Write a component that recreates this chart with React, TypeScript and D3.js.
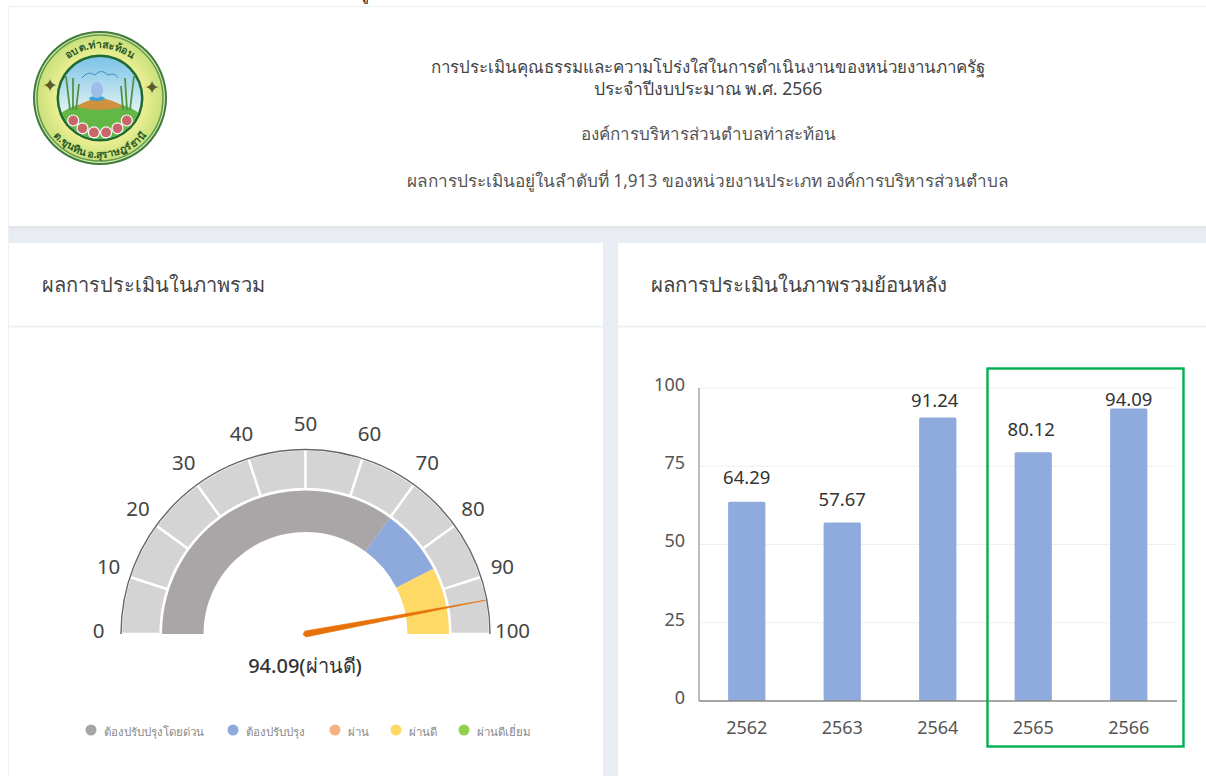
import React from "react";
import * as d3 from "d3";

const FONT = "'Noto Sans', 'Open Sans', Lato, sans-serif";

const clippedTopText = "รู";
const headerLines = [
  "การประเมินคุณธรรมและความโปร่งใสในการดำเนินงานของหน่วยงานภาครัฐ",
  "ประจำปีงบประมาณ พ.ศ. 2566",
  "องค์การบริหารส่วนตำบลท่าสะท้อน",
  "ผลการประเมินอยู่ในลำดับที่ 1,913 ของหน่วยงานประเภท องค์การบริหารส่วนตำบล",
];
const leftTitle = "ผลการประเมินในภาพรวม";
const rightTitle = "ผลการประเมินในภาพรวมย้อนหลัง";

const gaugeValue = 94.09;
const gaugeLabel = "94.09(ผ่านดี)";
const gaugeTicks = [0, 10, 20, 30, 40, 50, 60, 70, 80, 90, 100];
const gaugeBandStarts = [0, 70, 85];
const gaugeBandEnds = [70, 85, 100];
const gaugeBandColors = ["#aaa6a7", "#8ea9db", "#ffd966"];

const legendLabels = ["ต้องปรับปรุงโดยด่วน", "ต้องปรับปรุง", "ผ่าน", "ผ่านดี", "ผ่านดีเยี่ยม"];
const legendColors = ["#a5a5a5", "#8ea9db", "#f4b183", "#ffd966", "#92d050"];

const years = ["2562", "2563", "2564", "2565", "2566"];
const scores = [64.29, 57.67, 91.24, 80.12, 94.09];
const yTicks = [0, 25, 50, 75, 100];
// how far each value label sits above its bar in the reference
const labelLift = [22, 21, 15, 21, 6.5];
const labelShift = [0, 0, -3, -2, 0];

const cx = 305.5, cy = 634, rOuter = 184.5, rMid = 143.5, rInner = 102;
const angle = d3.scaleLinear().domain([0, 100]).range([-Math.PI / 2, Math.PI / 2]);
const polar = (v: number, r: number): [number, number] => {
  const a = angle(v);
  return [cx + r * Math.sin(a), cy - r * Math.cos(a)];
};
const arc = d3.arc<any>();

const x = d3.scaleBand<string>().domain(years).range([699, 1176.5]).paddingInner(0.61).paddingOuter(0.305);
const y = d3.scaleLinear().domain([0, 100]).range([701, 388]);
const barInset = 2;

function Logo() {
  const lx = 100, ly = 98;
  return (
    <g>
      <defs>
        <path id="logoTop" d={`M${lx - 50},${ly} A50,50 0 0 1 ${lx + 50},${ly}`} />
        <path id="logoBottom" d={`M${lx - 60},${ly} A60,60 0 0 0 ${lx + 60},${ly}`} />
        <clipPath id="logoIn"><circle cx={lx} cy={ly} r={41} /></clipPath>
        <radialGradient id="logoRing"><stop offset="60%" stopColor="#f4f39a" /><stop offset="100%" stopColor="#c9e07a" /></radialGradient>
        <linearGradient id="logoSky" x1="0" x2="0" y1="0" y2="1"><stop offset="0%" stopColor="#7cc3e8" /><stop offset="70%" stopColor="#e6f4f4" /></linearGradient>
      </defs>
      <circle cx={lx} cy={ly} r={67} fill="#3f7d3b" />
      <circle cx={lx} cy={ly} r={65} fill="#d8e8a8" />
      <circle cx={lx} cy={ly} r={63} fill="url(#logoRing)" stroke="#5f9a4d" strokeWidth={1.5} />
      <circle cx={lx} cy={ly} r={43.5} fill="#1f6a30" />
      <circle cx={lx} cy={ly} r={41} fill="url(#logoSky)" />
      <g clipPath="url(#logoIn)">
        <ellipse cx={lx} cy={ly + 28} rx={46} ry={24} fill="#63b845" />
        <path d={`M${lx - 24},${ly + 9} Q${lx},${ly - 8} ${lx + 24},${ly + 9} Q${lx},${ly + 15} ${lx - 24},${ly + 9} Z`} fill="#d0913e" />
        <ellipse cx={lx - 3} cy={ly + 0.5} rx={8} ry={2.5} fill="#3fa0d6" />
        <ellipse cx={lx - 3} cy={ly - 8} rx={6} ry={8} fill="#9fbde8" />
        <path d={`M${lx - 18},${ly - 20} q6,-8 13,-3 q6,-7 13,0 q7,-3 10,3`} stroke="#3a8fc4" strokeWidth={1} fill="none" />
        <path d={`M${lx - 30},${ly + 12} L${lx - 34},${ly - 22} M${lx - 27},${ly + 12} L${lx - 27},${ly - 20} M${lx - 24},${ly + 12} L${lx - 21},${ly - 14} M${lx + 30},${ly + 12} L${lx + 34},${ly - 22} M${lx + 27},${ly + 12} L${lx + 25},${ly - 20} M${lx + 23},${ly + 12} L${lx + 21},${ly - 12}`} stroke="#4f9440" strokeWidth={1.8} fill="none" />
      </g>
      {d3.range(6).map((i) => {
        const a = ((-50 + i * 20) * Math.PI) / 180;
        const r = 35;
        return <circle key={i} cx={lx + r * Math.sin(a)} cy={ly + r * Math.cos(a)} r={5.5} fill="#c9666a" stroke="#fff" strokeWidth={1.2} />;
      })}
      <text fontFamily={FONT} fontSize={10.5} fontWeight={700} fill="#2b5a2a">
        <textPath href="#logoTop" startOffset="50%" textAnchor="middle">อบต.ท่าสะท้อน</textPath>
      </text>
      <text fontFamily={FONT} fontSize={10.5} fontWeight={700} fill="#2b5a2a">
        <textPath href="#logoBottom" startOffset="50%" textAnchor="middle">ต.ขุนทิน อ.สุราษฎร์ธานี</textPath>
      </text>
      <text x={lx - 50} y={ly - 6} fontSize={19} fill="#5a5a2a" textAnchor="middle">✦</text>
      <text x={lx + 52} y={ly - 4} fontSize={19} fill="#5a5a2a" textAnchor="middle">✦</text>
    </g>
  );
}

function Gauge() {
  const cells = d3.pairs(gaugeTicks);
  const tip = polar(gaugeValue, 184);
  const side1 = polar(gaugeValue + 50, 3);
  const side2 = polar(gaugeValue - 50, 3);
  const back = polar(gaugeValue + 100, 2.5);
  return (
    <g>
      <g transform={`translate(${cx},${cy})`}>
        {cells.map(([a, b]) => (
          <path key={a} fill="#d4d4d4" stroke="#fff" strokeWidth={2.4}
            d={arc({ innerRadius: rMid + 1.5, outerRadius: rOuter, startAngle: angle(a), endAngle: angle(b) }) || ""} />
        ))}
        {gaugeBandStarts.map((s, i) => (
          <path key={s} fill={gaugeBandColors[i]}
            d={arc({ innerRadius: rInner, outerRadius: rMid, startAngle: angle(s), endAngle: angle(gaugeBandEnds[i]) }) || ""} />
        ))}
      </g>
      <path fill="none" stroke="#666" strokeWidth={1.4}
        d={`M${polar(0, rOuter)} A${rOuter},${rOuter} 0 0 1 ${polar(100, rOuter)}`} />
      <path fill="#e8710a" stroke="#e8710a" strokeWidth={0.6} strokeLinejoin="round"
        d={`M${tip} L${side1} L${back} L${side2} Z`} />
      {gaugeTicks.map((t) => {
        const [px, py] = polar(t, 207);
        return (
          <text key={t} x={px} y={py - 3.5} dy="0.35em" textAnchor="middle" fontFamily={FONT} fontSize={20.5} fill="#444">{t}</text>
        );
      })}
      <text x={305} y={666} dy="0.35em" textAnchor="middle" fontFamily={FONT} fontSize={20} fontWeight={500} fill="#333">{gaugeLabel}</text>
    </g>
  );
}

const legendDotX = [91, 233, 335, 396, 464];
function Legend() {
  return (
    <g>
      {legendLabels.map((l, i) => (
        <g key={l}>
          <circle cx={legendDotX[i]} cy={730} r={5.5} fill={legendColors[i]} />
          <text x={legendDotX[i] + 13} y={733} dy="0.3em" fontFamily={FONT} fontSize={11.5} fill="#8a8a8a">{l}</text>
        </g>
      ))}
    </g>
  );
}

function Bars() {
  return (
    <g>
      {yTicks.map((t) => (
        <g key={t}>
          {t > 0 && <line x1={699} x2={1177} y1={y(t)} y2={y(t)} stroke="#efefef" strokeWidth={1} />}
          <text x={685} y={y(t) - 3.5} dy="0.35em" textAnchor="end" fontFamily={FONT} fontSize={18} fill="#555">{t}</text>
        </g>
      ))}
      {scores.map((s, i) => (
        <rect key={years[i]} x={x(years[i])} y={y(s) + barInset} width={x.bandwidth()} height={y(0) - y(s) - barInset} rx={1.5} fill="#8faadc" />
      ))}
      <line x1={699} x2={699} y1={388} y2={701} stroke="#9a9a9a" strokeWidth={1.3} />
      <line x1={699} x2={1177} y1={701} y2={701} stroke="#8a8a8a" strokeWidth={1.5} />
      {scores.map((s, i) => (
        <text key={years[i]} x={(x(years[i]) as number) + x.bandwidth() / 2 + labelShift[i]} y={y(s) - labelLift[i]} dy="0.35em"
          textAnchor="middle" fontFamily={FONT} fontSize={18.5} fill="#333">{s.toFixed(2)}</text>
      ))}
      {years.map((yr) => (
        <text key={yr} x={(x(yr) as number) + x.bandwidth() / 2} y={728} dy="0.35em" textAnchor="middle" fontFamily={FONT} fontSize={18} fill="#555">{yr}</text>
      ))}
      <rect x={987.5} y={368.5} width={196} height={378} fill="none" stroke="#00b050" strokeWidth={2.4} />
    </g>
  );
}

export default function App() {
  return (
    <svg width={1206} height={776} style={{ position: "fixed", left: 0, top: 0, background: "#fff" }}>
      <defs>
        <linearGradient id="gapShade" x1="0" x2="0" y1="0" y2="1">
          <stop offset="0%" stopColor="#e1e4e8" />
          <stop offset="35%" stopColor="#e9edf3" />
          <stop offset="100%" stopColor="#e9edf4" />
        </linearGradient>
      </defs>
      <text x={369} y={-1} textAnchor="end" fontFamily={FONT} fontSize={17} fill="#222">{clippedTopText}</text>
      <rect x={8.5} y={6.5} width={1200} height={800} fill="#fff" stroke="#eef0f2" />
      <rect x={9} y={226} width={1197} height={17} fill="url(#gapShade)" />
      <rect x={603} y={243} width={15} height={533} fill="#e9edf4" />
      <rect x={9} y={325.5} width={594} height={2} fill="#eef0f3" />
      <rect x={618} y={325.5} width={588} height={2} fill="#eef0f3" />
      <Logo />
      <g fontFamily={FONT} textAnchor="middle" fill="#555">
        <text x={708} y={67} dy="0.35em" fontSize={16.9} fill="#444">{headerLines[0]}</text>
        <text x={708} y={89} dy="0.35em" fontSize={17.6} fill="#444">{headerLines[1]}</text>
        <text x={708} y={134} dy="0.35em" fontSize={17}>{headerLines[2]}</text>
        <text x={708} y={181} dy="0.35em" fontSize={17.2}>{headerLines[3]}</text>
      </g>
      <text x={42} y={285} dy="0.35em" fontFamily={FONT} fontSize={20} fill="#444">{leftTitle}</text>
      <text x={651} y={285} dy="0.35em" fontFamily={FONT} fontSize={20.4} fill="#444">{rightTitle}</text>
      <Gauge />
      <Legend />
      <Bars />
    </svg>
  );
}
